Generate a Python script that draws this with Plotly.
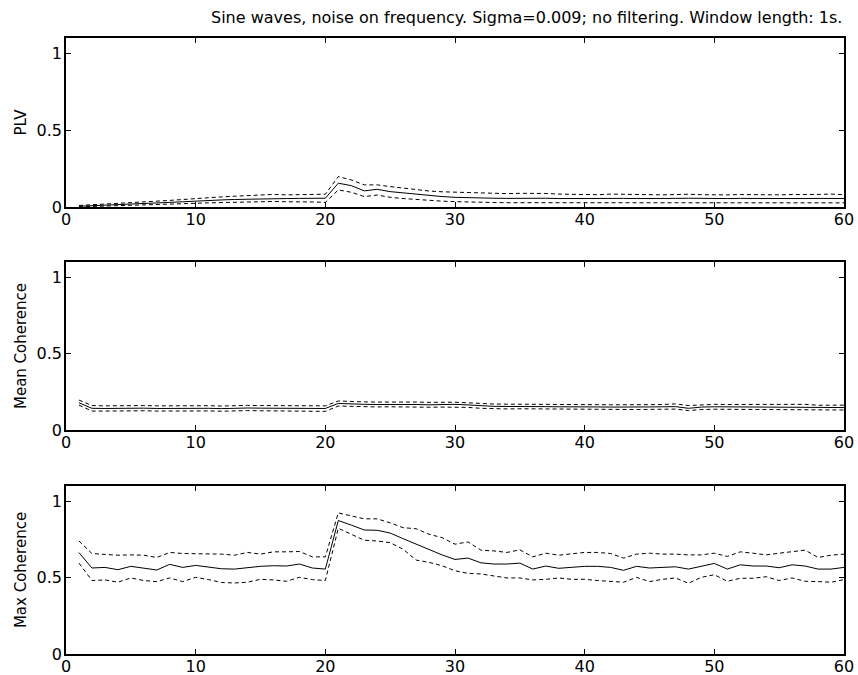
import plotly.graph_objects as go

x = list(range(1, 61))

plv_mean = [0.005, 0.008, 0.012, 0.016, 0.020, 0.023, 0.027, 0.030, 0.034, 0.039,
            0.043, 0.046, 0.049, 0.051, 0.055, 0.057, 0.055, 0.056, 0.055, 0.057,
            0.155, 0.139, 0.105, 0.115, 0.100, 0.092, 0.082, 0.074, 0.068, 0.063,
            0.060, 0.058, 0.057, 0.056, 0.057, 0.058, 0.057, 0.055, 0.056, 0.054,
            0.055, 0.057, 0.056, 0.055, 0.054, 0.055, 0.056, 0.057, 0.055, 0.054,
            0.055, 0.056, 0.055, 0.054, 0.055, 0.056, 0.055, 0.056, 0.057, 0.055]
plv_upper = [0.010, 0.014, 0.019, 0.024, 0.028, 0.033, 0.038, 0.043, 0.049, 0.057,
             0.062, 0.066, 0.070, 0.073, 0.078, 0.082, 0.079, 0.081, 0.080, 0.083,
             0.198, 0.176, 0.144, 0.144, 0.133, 0.122, 0.112, 0.104, 0.099, 0.096,
             0.092, 0.090, 0.088, 0.087, 0.089, 0.090, 0.088, 0.084, 0.082, 0.078,
             0.080, 0.084, 0.082, 0.080, 0.078, 0.079, 0.081, 0.083, 0.080, 0.078,
             0.079, 0.081, 0.080, 0.078, 0.079, 0.081, 0.080, 0.082, 0.084, 0.080]
plv_lower = [0.001, 0.003, 0.005, 0.008, 0.012, 0.014, 0.017, 0.019, 0.021, 0.024,
             0.027, 0.029, 0.031, 0.032, 0.035, 0.036, 0.034, 0.035, 0.033, 0.030,
             0.111, 0.096, 0.068, 0.078, 0.063, 0.055, 0.048, 0.042, 0.038, 0.035,
             0.032, 0.030, 0.029, 0.028, 0.028, 0.029, 0.028, 0.027, 0.028, 0.026,
             0.027, 0.028, 0.027, 0.027, 0.026, 0.027, 0.028, 0.029, 0.027, 0.026,
             0.027, 0.028, 0.027, 0.026, 0.027, 0.028, 0.027, 0.028, 0.029, 0.027]

mc_mean = [0.178, 0.142, 0.141, 0.143, 0.142, 0.143, 0.141, 0.142, 0.143, 0.144,
           0.142, 0.140, 0.143, 0.144, 0.143, 0.142, 0.143, 0.144, 0.142, 0.141,
           0.174, 0.170, 0.168, 0.167, 0.168, 0.166, 0.167, 0.165, 0.166, 0.168,
           0.164, 0.158, 0.155, 0.154, 0.155, 0.154, 0.153, 0.152, 0.153, 0.152,
           0.151, 0.150, 0.149, 0.150, 0.151, 0.152, 0.153, 0.142, 0.150, 0.152,
           0.151, 0.152, 0.150, 0.151, 0.152, 0.151, 0.150, 0.145, 0.146, 0.147]
mc_upper = [0.196, 0.160, 0.158, 0.160, 0.159, 0.160, 0.158, 0.159, 0.160, 0.161,
            0.159, 0.157, 0.160, 0.161, 0.160, 0.159, 0.160, 0.161, 0.159, 0.158,
            0.190, 0.186, 0.184, 0.183, 0.184, 0.182, 0.183, 0.181, 0.182, 0.182,
            0.178, 0.172, 0.170, 0.169, 0.170, 0.169, 0.168, 0.167, 0.168, 0.167,
            0.166, 0.165, 0.164, 0.165, 0.166, 0.167, 0.171, 0.160, 0.166, 0.168,
            0.167, 0.168, 0.166, 0.167, 0.168, 0.167, 0.168, 0.162, 0.162, 0.163]
mc_lower = [0.163, 0.124, 0.124, 0.126, 0.125, 0.126, 0.124, 0.125, 0.126, 0.127,
            0.125, 0.123, 0.126, 0.127, 0.126, 0.125, 0.126, 0.127, 0.125, 0.122,
            0.157, 0.154, 0.152, 0.151, 0.152, 0.150, 0.151, 0.149, 0.150, 0.150,
            0.148, 0.142, 0.139, 0.138, 0.139, 0.138, 0.137, 0.136, 0.137, 0.136,
            0.135, 0.134, 0.131, 0.134, 0.135, 0.136, 0.137, 0.127, 0.134, 0.136,
            0.135, 0.136, 0.134, 0.135, 0.136, 0.135, 0.134, 0.129, 0.130, 0.131]

mx_mean = [0.664, 0.563, 0.567, 0.552, 0.574, 0.561, 0.550, 0.587, 0.567, 0.580,
           0.569, 0.558, 0.556, 0.565, 0.574, 0.578, 0.576, 0.589, 0.563, 0.556,
           0.874, 0.844, 0.812, 0.810, 0.792, 0.755, 0.719, 0.684, 0.649, 0.619,
           0.628, 0.597, 0.589, 0.589, 0.595, 0.556, 0.576, 0.561, 0.569, 0.574,
           0.574, 0.567, 0.548, 0.574, 0.563, 0.567, 0.571, 0.556, 0.574, 0.593,
           0.556, 0.584, 0.576, 0.576, 0.565, 0.584, 0.576, 0.556, 0.556, 0.567]
mx_upper = [0.740, 0.658, 0.652, 0.647, 0.649, 0.647, 0.632, 0.665, 0.658, 0.658,
            0.658, 0.654, 0.647, 0.665, 0.654, 0.669, 0.669, 0.671, 0.636, 0.636,
            0.924, 0.907, 0.885, 0.885, 0.859, 0.827, 0.820, 0.784, 0.762, 0.719,
            0.734, 0.680, 0.675, 0.665, 0.682, 0.636, 0.660, 0.647, 0.658, 0.665,
            0.665, 0.658, 0.628, 0.654, 0.660, 0.654, 0.654, 0.649, 0.649, 0.660,
            0.639, 0.669, 0.660, 0.649, 0.660, 0.671, 0.680, 0.632, 0.647, 0.654]
mx_lower = [0.595, 0.481, 0.485, 0.470, 0.498, 0.481, 0.474, 0.498, 0.474, 0.502,
            0.487, 0.468, 0.465, 0.470, 0.489, 0.485, 0.476, 0.502, 0.487, 0.481,
            0.823, 0.784, 0.745, 0.740, 0.729, 0.686, 0.615, 0.600, 0.578, 0.545,
            0.528, 0.524, 0.513, 0.498, 0.498, 0.485, 0.489, 0.498, 0.489, 0.489,
            0.481, 0.474, 0.470, 0.502, 0.474, 0.489, 0.498, 0.463, 0.502, 0.519,
            0.476, 0.496, 0.496, 0.506, 0.481, 0.498, 0.476, 0.474, 0.470, 0.487]

x_ticks = [0, 10, 20, 30, 40, 50, 60]
y_ticks = [0, 0.5, 1]
y_tick_text = ["0", "0.5", "1"]
y_titles = ["PLV", "Mean Coherence", "Max Coherence"]
title = "Sine waves, noise on frequency. Sigma=0.009; no filtering. Window length: 1s."

panels = [(plv_mean, plv_upper, plv_lower),
          (mc_mean, mc_upper, mc_lower),
          (mx_mean, mx_upper, mx_lower)]

W, H = 858, 675
left_px, right_px = 66, 844
boxes = [(38, 207), (262, 430), (486, 654)]

fig = go.Figure()
FONT = "DejaVu Sans"
for i, (m, u, l) in enumerate(panels):
    xa = "x" if i == 0 else f"x{i+1}"
    ya = "y" if i == 0 else f"y{i+1}"
    for ser, dash in ((u, "4px,3px"), (l, "4px,3px"), (m, "solid")):
        fig.add_trace(go.Scatter(x=x, y=ser, mode="lines", xaxis=xa, yaxis=ya,
                                 line=dict(color="black", width=1, dash=dash),
                                 showlegend=False, hoverinfo="skip"))
    top, bot = boxes[i]
    axkey = "xaxis" if i == 0 else f"xaxis{i+1}"
    aykey = "yaxis" if i == 0 else f"yaxis{i+1}"
    fig.layout[axkey] = dict(domain=[left_px / W, right_px / W], range=[0, 60],
                             anchor=ya, tickvals=x_ticks, ticks="inside", ticklen=5,
                             tickcolor="black", showline=True, linecolor="black",
                             linewidth=1.5, mirror="ticks", showgrid=False, zeroline=False,
                             automargin=False, ticklabelstandoff=-3,
                             tickfont=dict(family=FONT, size=16, color="black"))
    fig.layout[aykey] = dict(domain=[1 - bot / H, 1 - top / H], range=[0, 1.1],
                             anchor=xa, tickvals=y_ticks, ticktext=y_tick_text,
                             ticks="inside", ticklen=5, tickcolor="black",
                             showline=True, linecolor="black", linewidth=1.5,
                             mirror="ticks", showgrid=False, zeroline=False,
                             automargin=False, ticklabelstandoff=-1,
                             tickfont=dict(family=FONT, size=16, color="black"),
                             title=dict(text=y_titles[i], standoff=6,
                                        font=dict(family=FONT, size=15, color="black")))

fig.add_annotation(text=title, xref="paper", yref="paper", x=right_px / W, y=1 - 17 / H,
                   xanchor="right", yanchor="middle", showarrow=False,
                   font=dict(family=FONT, size=16, color="black"))

fig.update_layout(width=W, height=H, margin=dict(l=0, r=0, t=0, b=0),
                  plot_bgcolor="white", paper_bgcolor="white")
fig.write_html("out.html")
